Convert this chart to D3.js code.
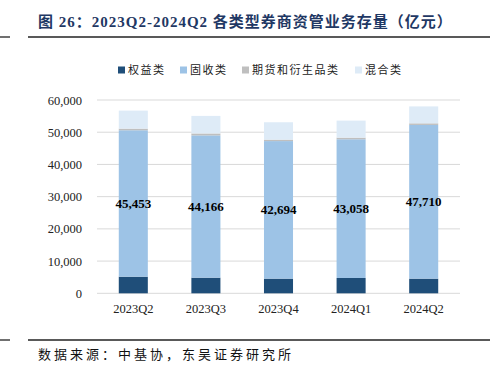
<!DOCTYPE html>
<html>
<head>
<meta charset="utf-8">
<script src="https://cdn.jsdelivr.net/npm/d3@7"></script>
<style>
  body { margin: 0; background: #fff; }
  svg { display: block; }
</style>
</head>
<body>
<div id="chart-area"></div>
<script>
// data
let quarters = ["2023Q2", "2023Q3", "2023Q4", "2024Q1", "2024Q2"];
let seriesNames = ["权益类", "固收类", "期货和衍生品类", "混合类"];
let equity = [5150, 4850, 4550, 4750, 4550];
let fixedIncome = [45453, 44166, 42694, 43058, 47710];
let futures = [500, 600, 450, 500, 500];
let hybrid = [5600, 5450, 5400, 5300, 5250];
let yTicks = [0, 10000, 20000, 30000, 40000, 50000, 60000];

let colors = ["#1F4E79", "#9DC3E6", "#BFBFBF", "#DEEBF7"];

let W = 490, H = 373;
let margin = {top: 100, right: 30, bottom: 80, left: 97};
let width = W - margin.left - margin.right,
    height = 293.3 - margin.top;

let svg = d3.select("#chart-area").append("svg")
    .attr("width", W)
    .attr("height", H);

// title + rules
svg.append("text")
    .attr("x", 38).attr("y", 27)
    .attr("fill", "#1F3864")
    .attr("font-family", "'Liberation Serif', 'Noto Sans CJK SC', serif")
    .attr("font-weight", "bold")
    .attr("font-size", 15)
    .attr("letter-spacing", 1)
    .text("图 26：2023Q2-2024Q2 各类型券商资管业务存量（亿元）");

[[37, 0, 10], [37, 28, 490], [340, 0, 10], [340, 28, 490]].forEach(l => {
  svg.append("line")
      .attr("x1", l[1]).attr("x2", l[2])
      .attr("y1", l[0]).attr("y2", l[0])
      .attr("stroke", "#222").attr("stroke-width", 1.3);
});

svg.append("text")
    .attr("x", 38).attr("y", 359)
    .attr("fill", "#111")
    .attr("font-family", "'Noto Sans CJK SC', sans-serif")
    .attr("font-size", 13)
    .attr("letter-spacing", 3)
    .text("数据来源：中基协，东吴证券研究所");

let g = svg.append("g")
    .attr("transform", `translate(${margin.left},${margin.top})`);

// Scales
let x = d3.scaleBand()
    .domain(quarters)
    .range([0, width])
    .paddingInner(0.6)
    .paddingOuter(0.3);

let y = d3.scaleLinear()
    .domain([0, 60000])
    .range([height, 0]);

// grid
g.selectAll(".grid")
    .data(yTicks)
    .enter().append("line")
    .attr("x1", 0).attr("x2", width)
    .attr("y1", d => y(d)).attr("y2", d => y(d))
    .attr("stroke", "#D9D9D9").attr("stroke-width", 1);

// y axis
let yAxis = g.append("g")
    .call(d3.axisLeft(y).tickValues(yTicks).tickSize(0).tickPadding(15)
      .tickFormat(d3.format(",")));
yAxis.select(".domain").remove();
yAxis.selectAll("text")
    .attr("font-family", "'Liberation Serif', serif")
    .attr("font-size", 12.5)
    .attr("fill", "#222");

// x axis
let xAxis = g.append("g")
    .attr("transform", `translate(0,${height})`)
    .call(d3.axisBottom(x).tickSize(0).tickPadding(11));
xAxis.select(".domain").remove();
xAxis.selectAll("text")
    .attr("font-family", "'Liberation Serif', serif")
    .attr("font-size", 12.5)
    .attr("fill", "#222");

// stacks
let rows = quarters.map((q, i) => ({
  q: q, s0: equity[i], s1: fixedIncome[i], s2: futures[i], s3: hybrid[i]
}));
let stack = d3.stack().keys(["s0", "s1", "s2", "s3"]);
let layers = stack(rows);

g.selectAll(".layer")
    .data(layers)
    .enter().append("g")
    .attr("fill", (d, i) => colors[i])
    .selectAll("rect")
    .data(d => d)
    .enter().append("rect")
    .attr("x", d => x(d.data.q))
    .attr("width", x.bandwidth())
    .attr("y", d => y(d[1]))
    .attr("height", d => y(d[0]) - y(d[1]));

// labels on fixed income
g.selectAll(".lbl")
    .data(layers[1])
    .enter().append("text")
    .attr("x", d => x(d.data.q) + x.bandwidth() / 2)
    .attr("y", d => y((d[0] + d[1]) / 2))
    .attr("dy", "0.35em")
    .attr("text-anchor", "middle")
    .attr("font-family", "'Liberation Serif', serif")
    .attr("font-weight", "bold")
    .attr("font-size", 13)
    .attr("fill", "#000")
    .text(d => d3.format(",")(d.data.s1));

// legend
let legendX = [118, 180, 242, 355];
let legend = svg.selectAll(".legend")
    .data(seriesNames)
    .enter().append("g")
    .attr("transform", (d, i) => `translate(${legendX[i]},70)`);
legend.append("rect")
    .attr("x", 0).attr("y", -3.5)
    .attr("width", 7).attr("height", 7)
    .attr("fill", (d, i) => colors[i]);
legend.append("text")
    .attr("x", 10).attr("y", 0)
    .attr("dy", "0.35em")
    .attr("font-family", "'Noto Sans CJK SC', sans-serif")
    .attr("font-size", 11)
    .attr("letter-spacing", 1.5)
    .attr("fill", "#222")
    .text(d => d);
</script>
</body>
</html>
